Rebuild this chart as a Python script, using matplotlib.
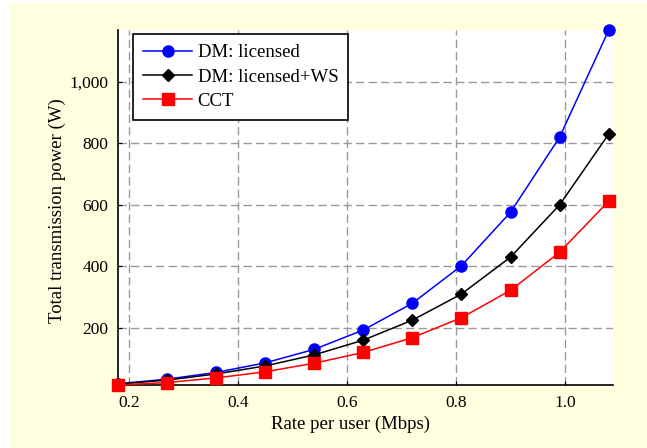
import matplotlib
matplotlib.use("Agg")
import matplotlib.pyplot as plt
from matplotlib.patches import Rectangle
from matplotlib.ticker import FuncFormatter

# rate per user (Mbps)
rate = [0.18, 0.27, 0.36, 0.45, 0.54, 0.63, 0.72, 0.81, 0.90, 0.99, 1.08]

# total transmission power (W)
dm_licensed = [18, 33, 55, 86, 130, 193, 280, 402, 576, 820, 1168]
dm_licensed_ws = [17, 30, 50, 76, 112, 160, 225, 310, 430, 600, 830]
cct = [14, 22, 37, 57, 85, 120, 168, 233, 322, 446, 612]

xticks = [0.2, 0.4, 0.6, 0.8, 1.0]
yticks = [200, 400, 600, 800, 1000]

plt.rcParams['font.family'] = ['Liberation Serif', 'DejaVu Serif']
plt.rcParams['font.size'] = 12.5

fig = plt.figure(figsize=(6.47, 4.48), dpi=100, facecolor='white')
# yellow panel behind the plot
fig.patches.append(Rectangle((10 / 647, 0), 1 - 10 / 647, 1 - 3 / 448,
                             transform=fig.transFigure, facecolor='#ffffe0',
                             edgecolor='none', zorder=-10))

ax = fig.add_axes([118 / 647, 63 / 448, 495 / 647, 355 / 448])
ax.set_zorder(1)
ax.set_facecolor('white')

ax.plot(rate, dm_licensed, color='blue', marker='o', markersize=8,
        linewidth=1.1, label='DM: licensed', clip_on=False, zorder=3)
ax.plot(rate, dm_licensed_ws, color='black', marker='D', markersize=6.5,
        linewidth=1.1, label='DM: licensed+WS', clip_on=False, zorder=4)
ax.plot(rate, cct, color='red', marker='s', markersize=8,
        linewidth=1.1, label='CCT', clip_on=False, zorder=5)

ax.set_xlim(0.18, 1.088)
ax.set_ylim(14, 1169)
ax.set_xticks(xticks)
ax.set_yticks(yticks)
ax.xaxis.set_major_formatter(FuncFormatter(lambda v, p: '%.1f' % v))
ax.yaxis.set_major_formatter(FuncFormatter(lambda v, p: '{:,.0f}'.format(v)))
ax.tick_params(direction='in', length=3, width=0.8, pad=7)

ax.grid(True, color='#9a9a9a', linestyle=(0, (6, 3)), linewidth=1)
ax.set_axisbelow(True)
for side in ['top', 'right']:
    ax.spines[side].set_visible(False)
for side in ['left', 'bottom']:
    ax.spines[side].set_linewidth(1.2)

ax.set_xlabel('Rate per user (Mbps)', fontsize=13.5)
ax.set_ylabel('Total transmission power (W)', fontsize=13.5)
ax.xaxis.set_label_coords(0.47, -0.087)
ax.yaxis.set_label_coords(-0.105, 0.49)

leg = ax.legend(loc='upper left', bbox_to_anchor=(0.03, 0.989),
                fancybox=False, framealpha=1, edgecolor='black',
                fontsize=13.5, handlelength=2.6, handletextpad=0.3,
                borderpad=0.55, labelspacing=0.38, borderaxespad=0)
leg.get_frame().set_linewidth(1.2)

fig.savefig('out.png', dpi=100, facecolor=fig.get_facecolor())
